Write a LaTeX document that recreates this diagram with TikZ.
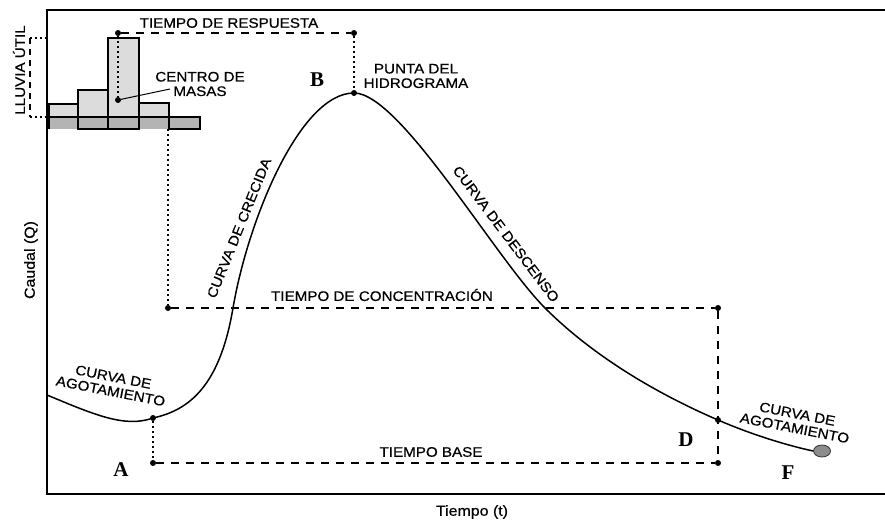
\documentclass[tikz,border=0pt]{standalone}
\usepackage{fontspec}
\usetikzlibrary{shapes.geometric}
\newfontfamily\lab{Liberation Sans}[FakeStretch=1.1,FakeBold=0.6]
\newfontfamily\serifb{Liberation Serif}
\definecolor{barlight}{HTML}{DCDCDC}
\definecolor{bardark}{HTML}{B4B4B4}
\definecolor{fgray}{HTML}{8C8C8C}
\begin{document}
\begin{tikzpicture}[x=1pt,y=-1pt,
  lbl/.style={font=\lab\fontsize{13.8}{14.5}\selectfont, inner sep=0pt, align=center},
  axl/.style={font=\lab\fontsize{14.5}{15}\selectfont, inner sep=0pt},
  ptl/.style={font=\serifb\bfseries\fontsize{21}{22}\selectfont, inner sep=0pt},
  pdot/.style={circle, fill=black, inner sep=0pt, minimum size=6pt},
  dashln/.style={line width=1.3pt, dash pattern=on 8pt off 7pt},
  dotln/.style={line width=2.2pt, dash pattern=on 2pt off 3pt},
  barbox/.style={draw=black, line width=1.2pt}]
\useasboundingbox (0,0) rectangle (885,521);

% frame
\draw[line width=2pt] (885,10) -- (47,10) -- (47,494) -- (885,494);

% histogram
\fill[barlight] (49,104) rectangle (78,129);
\fill[barlight] (78,90) rectangle (108,129);
\fill[barlight] (108,38) rectangle (139,129);
\fill[barlight] (139,103) rectangle (169,129);
\fill[bardark] (49,117) rectangle (200,129);
\draw[barbox] (49,129) -- (49,104) -- (78,104) -- (78,129);
\draw[barbox] (78,90) rectangle (108,129);
\draw[barbox] (108,38) rectangle (139,129);
\draw[barbox] (139,103) -- (169,103) -- (169,129);
\draw[barbox] (49,117) -- (169,117);
\draw[barbox] (169,117) rectangle (200,129);

% lluvia util bracket
\coordinate (lutop) at (30,38);
\coordinate (lubot) at (30,117);
\coordinate (lutopR) at (47,38);
\coordinate (lubotR) at (47,117);
\draw[line width=1.3pt, dash pattern=on 6pt off 5pt] (lutop) -- (lubot);
\draw[dotln] (lutop) -- (lutopR);
\draw[dotln] (lubot) -- (lubotR);
\node[lbl, rotate=90] (lluvia) at (19,70) {LLUVIA ÚTIL};

% points
\node[pdot] (cm) at (118,100) {};
\node[pdot] (rt) at (118,33) {};
\node[pdot] (rb) at (354,33) {};
\node[pdot] (B) at (354,93) {};
\node[pdot] (tc1) at (168,308) {};
\node[pdot] (tc2) at (718,308) {};
\node[pdot] (A) at (153,418) {};
\node[pdot] (A0) at (153,463) {};
\node[pdot] (D) at (718,420) {};
\node[pdot] (D0) at (718,463) {};
\node[ellipse, draw=black!80, line width=0.8pt, fill=fgray, inner sep=0pt, minimum width=17pt, minimum height=12pt] (F) at (822,451) {};
\coordinate (histb) at (168,129);
\coordinate (c0) at (47,395);
\coordinate (c1) at (233,308);
\coordinate (c2) at (545,308);

% hydrograph curve
\draw[line width=1.5pt]
  (c0) .. controls (95,415) and (125,428) .. (A.center)
  .. controls (190,410) and (220,385) .. (c1)
  .. controls (248,220) and (300,93) .. (B.center)
  .. controls (400,93) and (495,258) .. (c2)
  .. controls (595,358) and (660,395) .. (D.center)
  .. controls (755,436) and (790,446) .. (F.west);

% construction lines
\draw[dotln] (rt) -- (cm);
\draw[dashln] (rt) -- (rb);
\draw[dotln] (rb) -- (B);
\draw[dotln] (histb) -- (tc1);
\draw[dashln] (tc1) -- (tc2);
\draw[dashln] (tc2) -- (D0);
\draw[dotln] (A) -- (A0);
\draw[dashln] (A0) -- (D0);

% labels
\node[lbl] (tresp) at (229,23) {TIEMPO DE RESPUESTA};
\node[lbl] (centro) at (200,84) {CENTRO DE\\MASAS};
\draw[line width=1pt] (170,89) -- (cm);
\node[lbl] (punta) at (416,76) {PUNTA DEL\\HIDROGRAMA};
\node[lbl] (tconc) at (382,295) {TIEMPO DE CONCENTRACIÓN};
\node[lbl] (tbase) at (431,452) {TIEMPO BASE};
\node[lbl, rotate=68] (crecida) at (239,228) {CURVA DE CRECIDA};
\node[lbl, rotate=-53] (descenso) at (506,234) {CURVA DE DESCENSO};
\node[lbl, rotate=-11] (agot1) at (112,384) {CURVA DE\\AGOTAMIENTO};
\node[lbl, rotate=-11] (agot2) at (796,421) {CURVA DE\\AGOTAMIENTO};

\node[ptl] (lA) at (121,470) {A};
\node[ptl] (lB) at (317,80) {B};
\node[ptl] (lD) at (686,440) {D};
\node[ptl] (lF) at (788,473) {F};

\node[axl, rotate=90] (caudal) at (31,260) {Caudal (Q)};
\node[axl] (tiempo) at (472,512) {Tiempo (t)};
\end{tikzpicture}
\end{document}
